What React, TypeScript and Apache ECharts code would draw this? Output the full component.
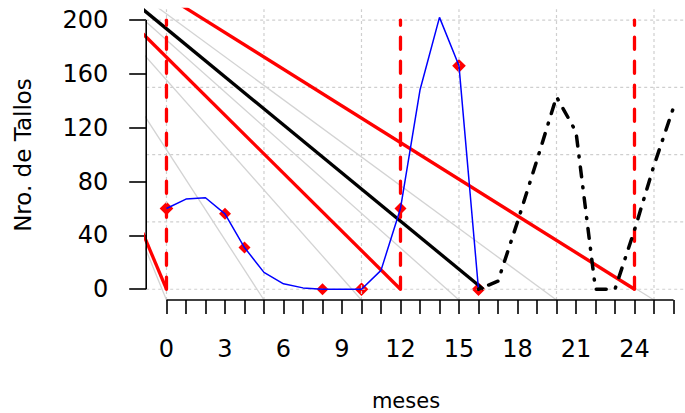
import React, { useEffect, useRef } from "react";
import * as echarts from "echarts";

// ---- data ----
const months = [0, 1, 2, 3, 4, 5, 6, 7, 8, 9, 10, 11, 12, 13, 14, 15, 16];
const stems = [60, 67, 68, 56, 31, 12.5, 4, 1, 0, 0, 0, 14, 60, 148, 202, 166, 0];
const projMonths = [16, 17, 18, 19, 20, 21, 22, 23, 24, 25, 26];
const projStems = [0, 6, 50, 96, 143, 117, 0, 0, 44, 92, 135];
const filledMarks = [3, 4, 8, 12];
const openMarks = [0, 10, 15, 16];
const apex = [-8.6, 296]; // common origin of all diagonal lines (outside plot)
const redEnds = [0, 12, 24];
const blackEnd = 16.25;
const grayEnds = [0, 5, 10, 15, 20, 25];
const cycleMarks = [0, 12, 24];
const cycleTop = 200;
const xTicks = Array.from({ length: 27 }, (_, i) => i);
const xLabels = [0, 3, 6, 9, 12, 15, 18, 21, 24];
const yTicks = [0, 40, 80, 120, 160, 200];
const gridX = [0, 5, 10, 15, 20, 25];
const gridY = [0, 50, 100, 150, 200];

const xMin = -1.04;
const xMax = 26.59;
const yMin = -8;
const yMax = 208;

const FONT = "DejaVu Sans";

export default function App() {
  const ref = useRef<HTMLDivElement>(null);
  useEffect(() => {
    if (!ref.current) return;
    const chart = echarts.init(ref.current, undefined, { renderer: "svg" });
    const base = { type: "line", symbol: "none", silent: true, animation: false };
    const series: any[] = [];
    const dotted = { color: "#cfcfcf", width: 1.2, type: [3, 3] };
    gridX.forEach((g) =>
      series.push({ ...base, data: [[g, yMin], [g, yMax]], lineStyle: dotted })
    );
    gridY.forEach((g) =>
      series.push({ ...base, data: [[xMin, g], [xMax, g]], lineStyle: dotted })
    );
    grayEnds.forEach((e) =>
      series.push({
        ...base,
        data: [apex, [e, yMin]],
        lineStyle: { color: "#d3d3d3", width: 1.3 },
      })
    );
    redEnds.forEach((e) =>
      series.push({
        ...base,
        data: [apex, [e, 0]],
        lineStyle: { color: "#ff0000", width: 3.3 },
      })
    );
    series.push({
      ...base,
      data: [apex, [blackEnd, 0]],
      lineStyle: { color: "#000000", width: 3.3 },
    });
    cycleMarks.forEach((c) =>
      series.push({
        ...base,
        data: [[c, 0], [c, cycleTop]],
        lineStyle: { color: "#ff0000", width: 3.3, type: [12, 12], cap: "round" },
      })
    );
    series.push({
      ...base,
      data: months.map((m, i) => [m, stems[i]]),
      lineStyle: { color: "#0000ff", width: 1.5 },
    });
    series.push({
      type: "scatter",
      silent: true,
      symbol: "diamond",
      symbolSize: [12, 12],
      data: filledMarks.map((m) => [m, stems[months.indexOf(m)]]),
      itemStyle: { color: "#ff0000", opacity: 1 },
    });
    series.push({
      type: "scatter",
      silent: true,
      symbol: "diamond",
      symbolSize: [8, 8],
      data: openMarks.map((m) => [m, stems[months.indexOf(m)]]),
      itemStyle: { color: "#ffffff", borderColor: "#ff0000", borderWidth: 4, opacity: 1 },
    });
    series.push({
      ...base,
      data: projMonths.map((m, i) => [m, projStems[i]]),
      lineStyle: { color: "#000000", width: 3.5, type: [1, 10, 10, 10], cap: "round", join: "round" },
    });
    // axis lines (R style: from first to last tick)
    series.push({
      ...base,
      clip: false,
      data: [[xMin, yTicks[0]], [xMin, yTicks[yTicks.length - 1]]],
      lineStyle: { color: "#000", width: 1.6 },
    });
    series.push({
      ...base,
      clip: false,
      data: [[xTicks[0], yMin], [xTicks[xTicks.length - 1], yMin]],
      lineStyle: { color: "#000", width: 1.6 },
    });

    chart.setOption({
      animation: false,
      grid: { left: 146.2, top: 9.3, right: 0, bottom: 113, containLabel: false },
      xAxis: {
        type: "value",
        min: xMin,
        max: xMax,
        axisLine: { show: false, onZero: false },
        splitLine: { show: false },
        axisTick: {
          show: true,
          length: 14,
          customValues: xTicks,
          lineStyle: { color: "#000", width: 1.6 },
        },
        axisLabel: {
          customValues: xLabels,
          fontFamily: FONT,
          fontSize: 24,
          color: "#000",
          margin: 37,
          lineHeight: 24,
          verticalAlign: "top",
        },
      },
      yAxis: {
        type: "value",
        min: yMin,
        max: yMax,
        axisLine: { show: false, onZero: false },
        splitLine: { show: false },
        axisTick: {
          show: true,
          length: 17,
          customValues: yTicks,
          lineStyle: { color: "#000", width: 1.6 },
        },
        axisLabel: {
          customValues: yTicks,
          fontFamily: FONT,
          fontSize: 24,
          color: "#000",
          margin: 38,
          verticalAlign: "middle",
          padding: [9, 0, 0, 0],
        },
      },
      graphic: [
        {
          type: "text",
          x: 406,
          y: 401,
          style: {
            text: "meses",
            font: `21px "${FONT}"`,
            fill: "#000",
            align: "center",
            verticalAlign: "middle",
          },
        },
        {
          type: "text",
          x: 23,
          y: 155,
          rotation: Math.PI / 2,
          style: {
            text: "Nro. de Tallos",
            font: `23px "${FONT}"`,
            fill: "#000",
            align: "center",
            verticalAlign: "middle",
          },
        },
      ],
      series,
    });
    return () => chart.dispose();
  }, []);
  return (
    <div
      ref={ref}
      style={{ position: "fixed", left: 0, top: 0, width: 685, height: 413, background: "#fff" }}
    />
  );
}
